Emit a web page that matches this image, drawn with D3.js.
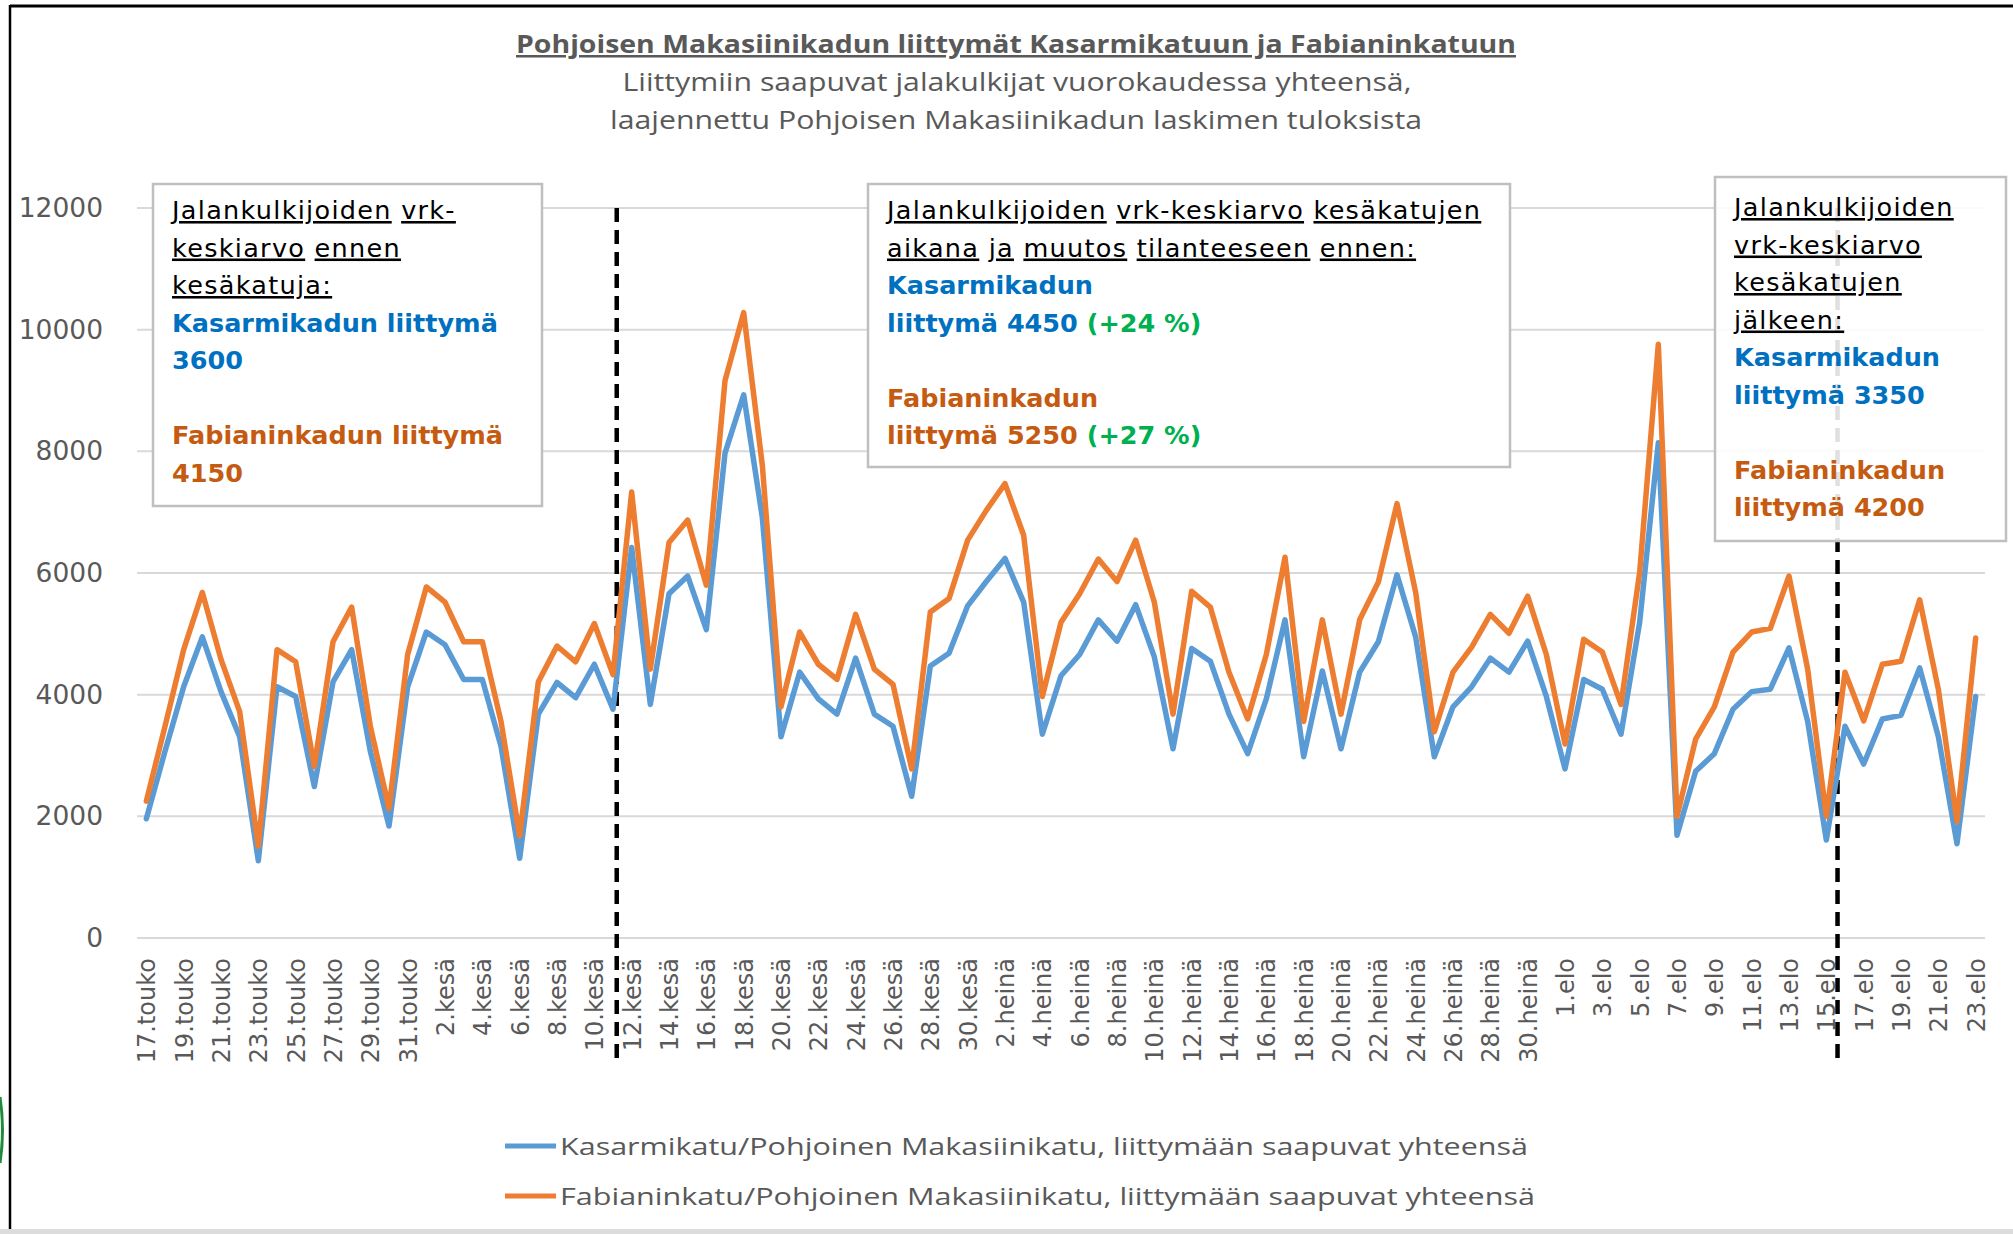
<!DOCTYPE html>
<html>
<head>
<meta charset="utf-8">
<script src="https://cdn.jsdelivr.net/npm/d3@7.9.0/dist/d3.min.js"></script>
<style>
  body { margin: 0; background: #fff; }
  svg { display: block; }
</style>
</head>
<body>
<svg id="chart" width="2013" height="1234"></svg>
<script>
const dates = [
  "17.touko", "18.touko", "19.touko", "20.touko", "21.touko", "22.touko", "23.touko", "24.touko",
  "25.touko", "26.touko", "27.touko", "28.touko", "29.touko", "30.touko", "31.touko",
  "1.kesä", "2.kesä", "3.kesä", "4.kesä", "5.kesä", "6.kesä", "7.kesä", "8.kesä", "9.kesä", "10.kesä",
  "11.kesä", "12.kesä", "13.kesä", "14.kesä", "15.kesä", "16.kesä", "17.kesä", "18.kesä", "19.kesä", "20.kesä",
  "21.kesä", "22.kesä", "23.kesä", "24.kesä", "25.kesä", "26.kesä", "27.kesä", "28.kesä", "29.kesä", "30.kesä",
  "1.heinä", "2.heinä", "3.heinä", "4.heinä", "5.heinä", "6.heinä", "7.heinä", "8.heinä", "9.heinä", "10.heinä",
  "11.heinä", "12.heinä", "13.heinä", "14.heinä", "15.heinä", "16.heinä", "17.heinä", "18.heinä", "19.heinä", "20.heinä",
  "21.heinä", "22.heinä", "23.heinä", "24.heinä", "25.heinä", "26.heinä", "27.heinä", "28.heinä", "29.heinä", "30.heinä",
  "31.heinä",
  "1.elo", "2.elo", "3.elo", "4.elo", "5.elo", "6.elo", "7.elo", "8.elo", "9.elo", "10.elo",
  "11.elo", "12.elo", "13.elo", "14.elo", "15.elo", "16.elo", "17.elo", "18.elo", "19.elo", "20.elo",
  "21.elo", "22.elo", "23.elo"
];

// Kasarmikatu/Pohjoinen Makasiinikatu
const kasarmi = [
  1960, 3070, 4130, 4950, 4050, 3310, 1270, 4130, 3970, 2490, 4210, 4740, 3070, 1840, 4130,
  5030, 4820, 4250, 4250, 3150, 1310, 3680, 4200, 3950, 4500, 3760, 6420, 3840, 5660, 5950,
  5070, 7970, 8930, 6910, 3310, 4370, 3930, 3680, 4600, 3680, 3480, 2330, 4470, 4680, 5460,
  5860, 6240, 5520, 3350, 4310, 4660, 5230, 4880, 5480, 4620, 3110, 4760, 4550, 3680, 3030,
  3930, 5230, 2980, 4390, 3110, 4370, 4870, 5970, 4950, 2980, 3800, 4130, 4600, 4370, 4880,
  3970, 2780, 4250, 4090, 3350, 5190, 8140, 1690, 2740, 3030, 3760, 4050, 4090, 4770, 3560,
  1610, 3480, 2860, 3600, 3660, 4440, 3310, 1550, 3970
];

// Fabianinkatu/Pohjoinen Makasiinikatu
const fabian = [
  2250, 3480, 4740, 5680, 4580, 3720, 1510, 4740, 4540, 2820, 4870, 5440, 3480, 2130, 4660,
  5770, 5520, 4870, 4870, 3560, 1680, 4210, 4800, 4540, 5170, 4330, 7330, 4420, 6500, 6870,
  5800, 9160, 10280, 7770, 3800, 5030, 4500, 4250, 5320, 4420, 4170, 2780, 5360, 5580, 6540,
  7030, 7470, 6620, 3970, 5190, 5660, 6230, 5860, 6540, 5520, 3680, 5700, 5440, 4370, 3600,
  4660, 6260, 3560, 5230, 3680, 5230, 5850, 7140, 5680, 3390, 4370, 4780, 5320, 5010, 5620,
  4660, 3190, 4910, 4700, 3840, 6010, 9760, 2000, 3270, 3800, 4700, 5030, 5090, 5950, 4420,
  2000, 4370, 3570, 4500, 4550, 5560, 4090, 1920, 4930
];

const yTicks = [0, 2000, 4000, 6000, 8000, 10000, 12000];
// kesäkatujen alku ja loppu (päivän indeksi, katkoviivat)
const periodBreaks = [25.2, 90.6];

const legendLabels = [
  "Kasarmikatu/Pohjoinen Makasiinikatu, liittymään saapuvat yhteensä",
  "Fabianinkatu/Pohjoinen Makasiinikatu, liittymään saapuvat yhteensä"
];

const BLUE = "#5B9BD5", ORANGE = "#ED7D31";
const TXT_BLUE = "#0070C0", TXT_ORANGE = "#C55A11", TXT_GREEN = "#00B050";
const GREY = "#595959";

const svg = d3.select("#chart");

// frame pieces of the original screenshot
svg.append("line").attr("x1", 10).attr("x2", 2013).attr("y1", 6).attr("y2", 6)
  .attr("stroke", "#000").attr("stroke-width", 3);
svg.append("line").attr("x1", 10).attr("x2", 10).attr("y1", 5).attr("y2", 1234)
  .attr("stroke", "#000").attr("stroke-width", 2.5);
svg.append("rect").attr("x", 0).attr("y", 1229).attr("width", 2013).attr("height", 5).attr("fill", "#dcdcdc");
svg.append("path").attr("d", "M0,1097 Q5,1130 0,1163").attr("fill", "none")
  .attr("stroke", "#1e8a3c").attr("stroke-width", 3);

const x = d3.scalePoint().domain(dates).range([137, 1985]).padding(0.5);
const xIdx = d3.scaleLinear().domain([0, dates.length - 1]).range([x(dates[0]), x(dates[dates.length - 1])]);
const y = d3.scaleLinear().domain([0, 12000]).range([938, 208]);

// gridlines
svg.append("g")
  .selectAll("line")
  .data(yTicks)
  .join("line")
  .attr("x1", 137).attr("x2", 1985)
  .attr("y1", d => y(d)).attr("y2", d => y(d))
  .attr("stroke", "#d9d9d9").attr("stroke-width", 2);

// y axis labels
const yAxis = svg.append("g")
  .attr("transform", "translate(137,0)")
  .call(d3.axisLeft(y).tickValues(yTicks).tickSize(0).tickPadding(34).tickFormat(d3.format("d")));
yAxis.select(".domain").remove();
yAxis.selectAll("text")
  .attr("fill", GREY)
  .style("font-family", "DejaVu Sans")
  .style("font-size", "26.5px");

// x axis labels, every other day
const xAxis = svg.append("g")
  .attr("transform", "translate(0,938)")
  .call(d3.axisBottom(x).tickValues(dates.filter((d, i) => i % 2 === 0)).tickSize(0));
xAxis.select(".domain").remove();
xAxis.selectAll("text")
  .attr("transform", "rotate(-90)")
  .attr("x", -20)
  .attr("y", 0)
  .attr("dy", "0.36em")
  .style("text-anchor", "end")
  .attr("fill", GREY)
  .style("font-family", "DejaVu Sans")
  .style("font-size", "24px");

// dashed period lines
svg.append("g")
  .selectAll("line")
  .data(periodBreaks)
  .join("line")
  .attr("x1", d => xIdx(d)).attr("x2", d => xIdx(d))
  .attr("y1", y(12000)).attr("y2", 1060)
  .attr("stroke", "#000").attr("stroke-width", 4.5)
  .attr("stroke-dasharray", "14,8");

// series
const line = d3.line()
  .x((d, i) => x(dates[i]))
  .y(d => y(d));

[[kasarmi, BLUE], [fabian, ORANGE]].forEach(([values, color]) => {
  svg.append("path")
    .datum(values)
    .attr("d", line)
    .attr("fill", "none")
    .attr("stroke", color)
    .attr("stroke-width", 5.5)
    .attr("stroke-linejoin", "round")
    .attr("stroke-linecap", "round");
});

// annotation boxes
const U = (t) => ({ t, u: true });
const B = (t, c) => ({ t, c, b: true });
const boxes = [
  { x: 153, y: 184, w: 389, h: 322, tx: 172, ty: 219, op: 1, lines: [
    [U("Jalankulkijoiden vrk-")],
    [U("keskiarvo ennen")],
    [U("kesäkatuja:")],
    [B("Kasarmikadun liittymä", TXT_BLUE)],
    [B("3600", TXT_BLUE)],
    [],
    [B("Fabianinkadun liittymä", TXT_ORANGE)],
    [B("4150", TXT_ORANGE)]
  ]},
  { x: 868, y: 184, w: 642, h: 283, tx: 887, ty: 219, op: 1, lines: [
    [U("Jalankulkijoiden vrk-keskiarvo kesäkatujen")],
    [U("aikana ja muutos tilanteeseen ennen:")],
    [B("Kasarmikadun", TXT_BLUE)],
    [B("liittymä 4450 ", TXT_BLUE), B("(+24 %)", TXT_GREEN)],
    [],
    [B("Fabianinkadun", TXT_ORANGE)],
    [B("liittymä 5250 ", TXT_ORANGE), B("(+27 %)", TXT_GREEN)]
  ]},
  { x: 1715, y: 177, w: 291, h: 364, tx: 1734, ty: 216, op: 0.88, lines: [
    [U("Jalankulkijoiden")],
    [U("vrk-keskiarvo")],
    [U("kesäkatujen")],
    [U("jälkeen:")],
    [B("Kasarmikadun", TXT_BLUE)],
    [B("liittymä 3350", TXT_BLUE)],
    [],
    [B("Fabianinkadun", TXT_ORANGE)],
    [B("liittymä 4200", TXT_ORANGE)]
  ]}
];

boxes.forEach(box => {
  const g = svg.append("g");
  g.append("rect")
    .attr("x", box.x).attr("y", box.y).attr("width", box.w).attr("height", box.h)
    .attr("fill", "#fff").attr("fill-opacity", box.op)
    .attr("stroke", "#bfbfbf").attr("stroke-width", 2.5);
  box.lines.forEach((segs, li) => {
    if (!segs.length) return;
    const text = g.append("text")
      .attr("x", box.tx)
      .attr("y", box.ty + li * 37.5)
      .style("font-family", "DejaVu Sans")
      .style("font-size", "25.5px")
      .attr("xml:space", "preserve");
    segs.forEach(s => {
      if (s.u) {
        // underline word by word, spaces left plain
        s.t.split(" ").forEach((w, wi) => {
          if (wi > 0) text.append("tspan").text(" ").style("letter-spacing", "1.3px");
          text.append("tspan").text(w)
            .attr("fill", "#000")
            .style("letter-spacing", "1.3px")
            .style("text-decoration", "underline");
        });
      } else {
        text.append("tspan").text(s.t)
          .attr("fill", s.c)
          .style("font-weight", "bold");
      }
    });
  });
});

// title
svg.append("text")
  .attr("x", 1016).attr("y", 53)
  .attr("text-anchor", "middle")
  .attr("textLength", 1000).attr("lengthAdjust", "spacingAndGlyphs")
  .attr("fill", GREY)
  .style("font-family", "Open Sans")
  .style("font-size", "25px")
  .style("font-weight", "bold")
  .style("text-decoration", "underline")
  .text("Pohjoisen Makasiinikadun liittymät Kasarmikatuun ja Fabianinkatuun");

svg.append("text")
  .attr("x", 1017).attr("y", 91)
  .attr("text-anchor", "middle")
  .attr("textLength", 789).attr("lengthAdjust", "spacingAndGlyphs")
  .attr("fill", GREY)
  .style("font-family", "Open Sans")
  .style("font-size", "25px")
  .text("Liittymiin saapuvat jalakulkijat vuorokaudessa yhteensä,");

svg.append("text")
  .attr("x", 1016).attr("y", 129)
  .attr("text-anchor", "middle")
  .attr("textLength", 812).attr("lengthAdjust", "spacingAndGlyphs")
  .attr("fill", GREY)
  .style("font-family", "Open Sans")
  .style("font-size", "25px")
  .text("laajennettu Pohjoisen Makasiinikadun laskimen tuloksista");

// legend
const legend = svg.append("g");
[[legendLabels[0], BLUE, 1146, 968], [legendLabels[1], ORANGE, 1196, 975]].forEach(([label, color, ly, len]) => {
  legend.append("line")
    .attr("x1", 505).attr("x2", 556).attr("y1", ly).attr("y2", ly)
    .attr("stroke", color).attr("stroke-width", 5);
  legend.append("text")
    .attr("x", 560).attr("y", ly + 9)
    .attr("textLength", len).attr("lengthAdjust", "spacingAndGlyphs")
    .attr("fill", GREY)
    .style("font-family", "Open Sans")
    .style("font-size", "24px")
    .text(label);
});
</script>
</body>
</html>
